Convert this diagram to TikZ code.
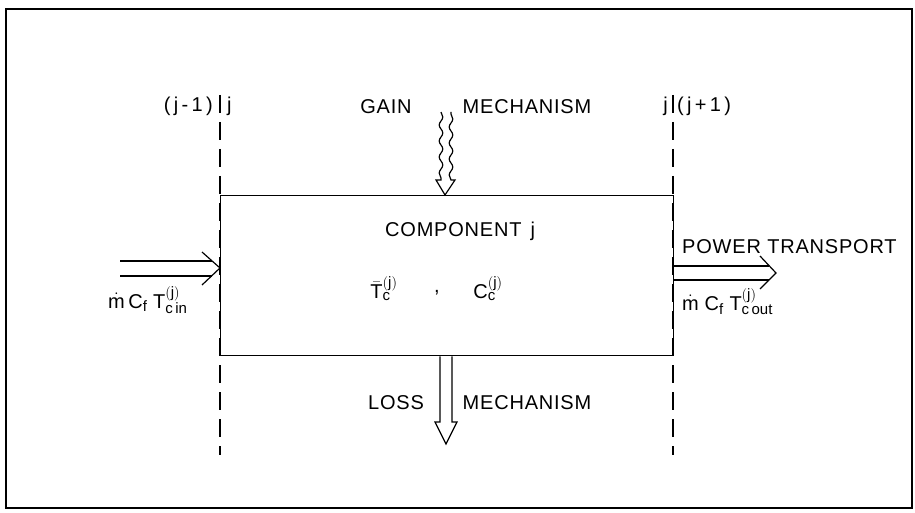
\documentclass[tikz,border=0pt]{standalone}
\usepackage{fontspec}
\setmainfont{Liberation Sans}
\newfontfamily\lblfont[LetterSpace=4]{Liberation Sans}
\DeclareMathSizes{20}{20}{15}{12}
\usetikzlibrary{decorations.pathmorphing}
\tikzset{
  lbl/.style={font=\fontsize{20}{22}\lblfont, inner sep=0pt},
  flow/.style={line width=1.2pt},
  cut/.style={line width=1.2pt, dash pattern=on 18pt off 9pt},
  wavy/.style={decoration={snake, amplitude=1.8pt, segment length=16pt}},
}
\begin{document}
\begin{tikzpicture}[x=1pt, y=-1pt]
    \useasboundingbox (0,0) rectangle (915,513);
    % Outer frame
    \draw[line width=1.5pt] (6,9) rectangle (912,508);

    % Component box
    \node[draw, line width=1.3pt, anchor=north west, inner sep=0pt,
          minimum width=453pt, minimum height=160pt] (comp) at (220,195) {};

    % Cuts between neighbouring components
    \coordinate (cutLtop) at (220,95);
    \coordinate (cutLbot) at (220,455);
    \coordinate (cutRtop) at (673,95);
    \coordinate (cutRbot) at (673,455);
    \draw[cut] (cutLtop) -- (cutLbot);
    \draw[cut] (cutRtop) -- (cutRbot);
    \node[lbl, anchor=east] (prevL) at (213,106) {(\,j\,-\,1\,)};
    \node[lbl, anchor=west] (curL) at (227,106) {j};
    \node[lbl, anchor=east] (curR) at (668,106) {j};
    \node[lbl, anchor=west] (nextR) at (677,106) {(\,j\,+\,1\,)};

    % Gain mechanism (wavy hollow arrow)
    \node[lbl] (gain) at (386,107) {GAIN};
    \node[lbl] (gainmech) at (527,107) {MECHANISM};
    \coordinate (gainA) at (441,112);
    \coordinate (gainB) at (441,180);
    \coordinate (gainC) at (451,180);
    \coordinate (gainD) at (451,112);
    \draw[flow, wavy] (gainA) decorate {-- (gainB)} -- (436,180) -- (comp.north -| 445,0)
        -- (455,180) -- (gainC) decorate {-- (gainD)};

    % Inside the box
    \node[lbl, anchor=west] (compname) at (385,231) {COMPONENT\hspace{9pt}j};
    \node[lbl] (tbar) at (384,289) {$\bar{\mathrm{T}}_{\mathrm{c}}^{\mathrm{(j)}}$};
    \node[lbl] (comma) at (437,293) {,};
    \node[lbl] (cap) at (488,289) {$\mathrm{C}_{\mathrm{c}}^{\mathrm{(j)}}$};

    % Incoming power transport
    \coordinate (inA) at (120,261);
    \coordinate (inB) at (212,261);
    \coordinate (inC) at (120,276);
    \coordinate (inD) at (212,276);
    \draw[flow] (inA) -- (inB);
    \draw[flow] (inC) -- (inD);
    \draw[flow] (202,252) -- (comp.west |- 0,268) -- (202,285);
    \node[lbl, anchor=west] (inlbl) at (108,300)
        {$\dot{\mathrm{m}}\,\mathrm{C_f}\;\mathrm{T^{(j)}_{c\,in}}$};

    % Outgoing power transport
    \node[lbl, anchor=west] (power) at (682,247) {POWER TRANSPORT};
    \coordinate (outA) at (769,266);
    \coordinate (outB) at (769,280);
    \draw[flow] (comp.east |- outA) -- (outA);
    \draw[flow] (comp.east |- outB) -- (outB);
    \draw[flow] (760,256) -- (776,273) -- (760,289);
    \node[lbl, anchor=west] (outlbl) at (682,302)
        {$\dot{\mathrm{m}}\;\mathrm{C_f}\;\mathrm{T^{(j)}_{c\,out}}$};

    % Loss mechanism (hollow arrow)
    \node[lbl] (loss) at (396,403) {LOSS};
    \node[lbl] (lossmech) at (527,403) {MECHANISM};
    \draw[flow] (comp.south -| 440,0) -- (440,422) -- (435,422) -- (446,444)
        -- (457,422) -- (452,422) -- (comp.south -| 452,0);
\end{tikzpicture}
\end{document}
